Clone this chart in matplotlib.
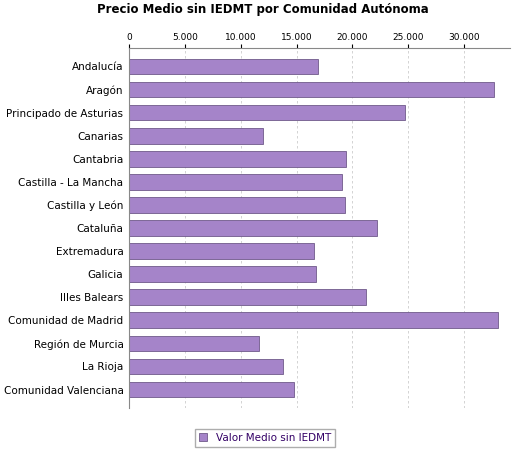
import matplotlib
matplotlib.use("Agg")
import matplotlib.pyplot as plt
from matplotlib.ticker import FuncFormatter

categories = ["Andalucía", "Aragón", "Principado de Asturias", "Canarias", "Cantabria",
              "Castilla - La Mancha", "Castilla y León", "Cataluña", "Extremadura", "Galicia",
              "Illes Balears", "Comunidad de Madrid", "Región de Murcia", "La Rioja",
              "Comunidad Valenciana"]
values = [16900, 32700, 24700, 12000, 19400, 19100, 19300, 22200, 16600, 16700,
          21200, 33000, 11600, 13800, 14800]
ticks = [0, 5000, 10000, 15000, 20000, 25000, 30000]

fig = plt.figure(figsize=(5.25, 4.5), dpi=100)
ax = fig.add_axes([129/525, 1-408/450, (510-129)/525, (408-48)/450])
y = list(range(len(categories)))
ax.barh(y, values, height=0.68, color="#a584c9", edgecolor="#6f5a8a", linewidth=0.6,
        label="Valor Medio sin IEDMT")
ax.set_yticks(y)
ax.set_yticklabels(categories, fontsize=7.5)
ax.set_ylim(len(categories)-0.5+0.3, -0.5-0.3)
ax.set_xlim(0, 34100)
ax.set_xticks(ticks)
ax.xaxis.set_major_formatter(FuncFormatter(lambda v, p: f"{int(v):,}".replace(",", ".")))
ax.xaxis.tick_top()
ax.tick_params(axis="x", labelsize=6.5, length=3, pad=1)
ax.tick_params(axis="y", length=0, pad=4)
ax.grid(axis="x", color="#cccccc", linestyle=(0, (3, 3)), linewidth=0.6)
ax.set_axisbelow(True)
for s in ["right", "bottom"]:
    ax.spines[s].set_visible(False)
ax.spines["top"].set_color("#888888")
ax.spines["left"].set_color("#888888")
fig.text(0.5, 1-9/450, "Precio Medio sin IEDMT por Comunidad Autónoma", ha="center", va="center",
         fontsize=8.5, fontweight="bold")
fig.legend(loc="center", bbox_to_anchor=(265/525, 1-438/450), fontsize=7.5, frameon=True,
           fancybox=False, edgecolor="#999999", handlelength=0.8, handleheight=0.8,
           labelcolor="#330066", borderpad=0.4)
fig.savefig("out.png", dpi=100)
